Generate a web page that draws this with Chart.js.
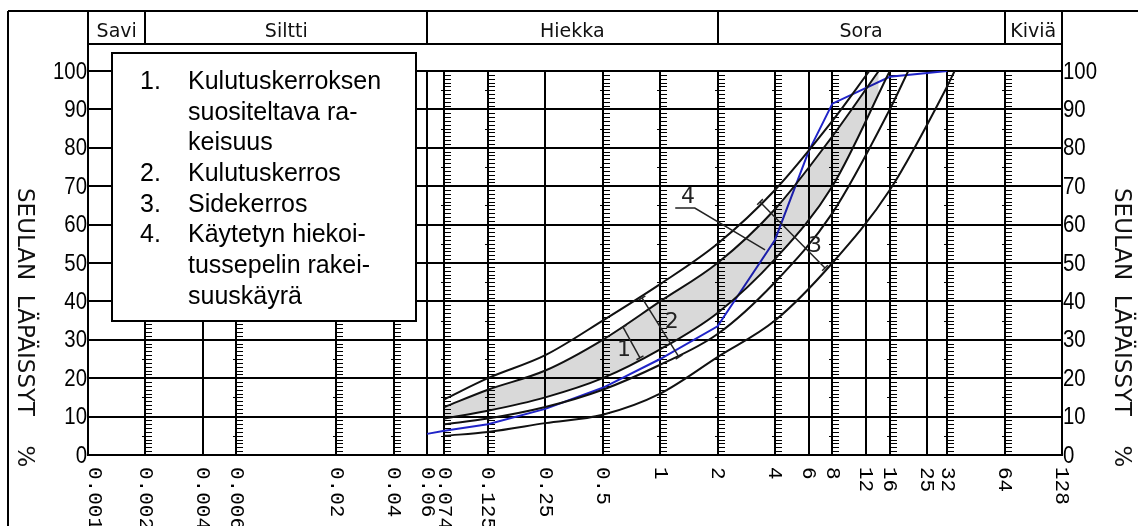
<!DOCTYPE html>
<html><head><meta charset="utf-8">
<script src="https://cdn.jsdelivr.net/npm/chart.js@4.4.1/dist/chart.umd.min.js"></script>
<style>html,body{margin:0;padding:0;background:#fff;}canvas{display:block;}</style>
</head><body>
<canvas id="c" width="1138" height="526"></canvas>
<script>
// ---- data ----
const sieveTicks = [0.001,0.002,0.004,0.006,0.02,0.04,0.06,0.074,0.125,0.25,0.5,1,2,4,6,8,12,16,25,32,64,128];
const sieveTickLabels = ['0.001','0.002','0.004','0.006','0.02','0.04','0.06','0.074','0.125','0.25','0.5','1','2','4','6','8','12','16','25','32','64','128'];
const rulerSieves = [0.002,0.006,0.02,0.04,0.074,0.125,0.5,1,2,4,8,16,32,64];
const plainSieves = [0.004,0.06,0.25,6,12,25];
const passTicks = [0,10,20,30,40,50,60,70,80,90,100];
const passTickLabels = ['0','10','20','30','40','50','60','70','80','90','100'];
const soilClasses = ['Savi','Siltti','Hiekka','Sora','Kiviä'];
const soilClassBounds = [0.001,0.002,0.06,2,64,128];
const yTitle = 'SEULAN  LÄPÄISSYT    %';

// curve A: Kulutuskerros / Sidekerros upper limit
const curveA_x = [0.074,0.125,0.25,0.5,1,2,4,8,12.5];
const curveA_y = [14.5,20,26,35,44.5,55,69,87,100];
// curve B: recommended (shaded) upper limit
const curveB_x = [0.074,0.125,0.25,0.5,1,2,4,8,14];
const curveB_y = [12.5,17,22,30,40,50,64,83,100];
// curve C: recommended (shaded) lower limit
const curveC_x = [0.074,0.125,0.25,0.5,1,2,4,8,16];
const curveC_y = [9.5,11.5,15,20,27.5,37,51,70,100];
// curve D: Kulutuskerros lower limit
const curveD_x = [0.074,0.125,0.25,0.5,1,2,4,8,16,20];
const curveD_y = [8,9.5,12.5,17,23.5,31.5,45,63,90,100];
// curve E: Sidekerros lower limit
const curveE_x = [0.074,0.125,0.25,0.5,1,2,4,8,16,32,35];
const curveE_y = [5,6,8.3,10.5,16,25.5,35,50,69,96,100];
// used gritting aggregate grading curve (blue)
const usedCurve_x = [0.06,0.074,0.125,0.25,0.5,1,2,4,6,8,16,32];
const usedCurve_y = [5.5,6.3,8,12,17.5,25,33.5,56,79,91.5,98.5,100];

const legendNumbers = ['1.','','','2.','3.','4.','',''];
const legendTexts = ['Kulutuskerroksen','suositeltava ra-','keisuus','Kulutuskerros','Sidekerros','Käytetyn hiekoi-','tussepelin rakei-','suuskäyrä'];

// dimension marks on the chart (data coordinates: diameter, %)
const marks = [
  {label:'1', from:[0.639,33.3], to:[0.784,25.3], at:[0.646,27.3]},
  {label:'2', from:[0.803,40.9], to:[1.256,25.5], at:[1.15,34.6]},
  {label:'3', from:[3.34,65.9], to:[7.32,48.7], at:[6.49,54.4]}
];
const leader4 = {label:'4', at:[1.40,67.2], path:[[1.20,64.3],[1.52,64.3],[3.55,53.4]]};

// ---- chart ----
const pts = (xs, ys) => xs.map((x,i)=>({x, y: ys[i]}));
const black = '#111';
const blk = (data, extra) => Object.assign({data, borderColor: black, borderWidth: 2, pointRadius: 0, fill: false, cubicInterpolationMode: 'monotone'}, extra||{});

const numFont = "24px 'Liberation Sans', Arial, sans-serif";

const deco = {
  id: 'deco',
  beforeDatasetsDraw(chart) {
    const {ctx, chartArea: ca, scales: {x, y}} = chart;
    ctx.save();
    ctx.strokeStyle = '#000';
    ctx.lineWidth = 2;
    plainSieves.forEach(v => {
      const px = Math.round(x.getPixelForValue(v));
      ctx.beginPath(); ctx.moveTo(px, ca.top); ctx.lineTo(px, ca.bottom); ctx.stroke();
    });
    rulerSieves.forEach(v => {
      const px = Math.round(x.getPixelForValue(v));
      ctx.lineWidth = 2;
      ctx.beginPath(); ctx.moveTo(px, ca.top); ctx.lineTo(px, ca.bottom); ctx.stroke();
      ctx.lineWidth = 1;
      ctx.beginPath();
      for (let p = 1; p < 100; p++) {
        const py = Math.round(y.getPixelForValue(p)) + 0.5;
        ctx.moveTo(px, py); ctx.lineTo(px + 7, py);
        if (p % 10 === 5) { ctx.moveTo(px - 3, py); ctx.lineTo(px, py); }
      }
      ctx.stroke();
    });
    ctx.restore();
  },
  afterDraw(chart) {
    const {ctx, chartArea: ca, scales: {x, y}} = chart;
    const P = (d) => [x.getPixelForValue(d[0]), y.getPixelForValue(d[1])];
    ctx.save();
    ctx.strokeStyle = '#000';
    ctx.fillStyle = '#000';
    ctx.lineWidth = 2;
    const top = 11, hb = 44;
    const seg = (x1,y1,x2,y2) => { ctx.beginPath(); ctx.moveTo(x1,y1); ctx.lineTo(x2,y2); ctx.stroke(); };
    // frame
    seg(8, top, 1138, top);
    seg(8, top, 8, 526);
    // axis lines extending into header
    seg(ca.left, top, ca.left, ca.bottom);
    seg(ca.right, top, ca.right, ca.bottom);
    seg(ca.left, hb, ca.right, hb);
    // header dividers and texts
    ctx.font = "19px 'DejaVu Sans', sans-serif";
    ctx.textAlign = 'center'; ctx.textBaseline = 'alphabetic';
    ctx.fillStyle = '#111';
    for (let i = 0; i < soilClasses.length; i++) {
      const a = x.getPixelForValue(soilClassBounds[i]);
      const b = x.getPixelForValue(soilClassBounds[i+1]);
      if (i > 0) seg(Math.round(a), top, Math.round(a), hb);
      ctx.fillText(soilClasses[i], (a + b) / 2, 37);
    }
    // y tick labels, both sides (condensed)
    ctx.font = numFont;
    ctx.textBaseline = 'middle';
    ctx.fillStyle = '#000';
    passTicks.forEach((v, i) => {
      const py = y.getPixelForValue(v) + 1;
      ctx.save(); ctx.translate(ca.left - 1, py); ctx.scale(0.85, 1);
      ctx.textAlign = 'right'; ctx.fillText(passTickLabels[i], 0, 0); ctx.restore();
      ctx.save(); ctx.translate(ca.right + 1, py); ctx.scale(0.85, 1);
      ctx.textAlign = 'left'; ctx.fillText(passTickLabels[i], 0, 0); ctx.restore();
    });
    // x tick labels (rotated, reading downward)
    ctx.font = "21px 'Liberation Mono', 'DejaVu Sans Mono', monospace";
    ctx.textAlign = 'left'; ctx.textBaseline = 'middle';
    sieveTicks.forEach((v, i) => {
      let px = x.getPixelForValue(v);
      if (i === 0) px += 7;
      ctx.save(); ctx.translate(px, ca.bottom + 12); ctx.rotate(Math.PI / 2);
      ctx.fillText(sieveTickLabels[i], 0, 0); ctx.restore();
    });
    // y titles
    ctx.font = "23px 'DejaVu Sans', sans-serif";
    ctx.fillStyle = '#111';
    [24, 1121].forEach(cx => {
      ctx.save(); ctx.translate(cx, 188); ctx.rotate(Math.PI / 2);
      ctx.fillText(yTitle, 0, 0); ctx.restore();
    });
    // dimension marks
    ctx.strokeStyle = '#222'; ctx.fillStyle = '#222'; ctx.lineWidth = 1.5;
    ctx.font = "22px 'DejaVu Sans', sans-serif";
    ctx.textAlign = 'center'; ctx.textBaseline = 'middle';
    marks.forEach(m => {
      const [x1,y1] = P(m.from), [x2,y2] = P(m.to);
      seg(x1,y1,x2,y2);
      const dx = x2-x1, dy = y2-y1, L = Math.hypot(dx,dy), nx = -dy/L*4, ny = dx/L*4;
      seg(x1-nx,y1-ny,x1+nx,y1+ny); seg(x2-nx,y2-ny,x2+nx,y2+ny);
      const [tx,ty] = P(m.at);
      ctx.fillText(m.label, tx, ty);
    });
    {
      ctx.beginPath();
      leader4.path.forEach((d, i) => { const [px,py] = P(d); if (i) ctx.lineTo(px,py); else ctx.moveTo(px,py); });
      ctx.stroke();
      const [tx,ty] = P(leader4.at);
      ctx.fillText(leader4.label, tx, ty);
    }
    // legend box
    ctx.fillStyle = '#fff';
    ctx.fillRect(112, 53, 304, 268);
    ctx.strokeStyle = '#000'; ctx.lineWidth = 2;
    ctx.strokeRect(112, 53, 304, 268);
    ctx.fillStyle = '#000';
    ctx.font = "25px 'Liberation Sans', Arial, sans-serif";
    ctx.textAlign = 'left'; ctx.textBaseline = 'middle';
    legendTexts.forEach((t, i) => {
      const ly = 82 + i * 30.7;
      if (legendNumbers[i]) ctx.fillText(legendNumbers[i], 140, ly);
      ctx.fillText(t, 188, ly);
    });
    ctx.restore();
  }
};

new Chart(document.getElementById('c'), {
  type: 'line',
  data: {
    datasets: [
      blk(pts(curveA_x, curveA_y)),
      blk(pts(curveB_x, curveB_y), {fill: {target: '+1'}, backgroundColor: 'rgba(0,0,0,0.15)'}),
      blk(pts(curveC_x, curveC_y)),
      blk(pts(curveD_x, curveD_y)),
      blk(pts(curveE_x, curveE_y)),
      {data: pts(usedCurve_x, usedCurve_y), borderColor: '#2024c8', borderWidth: 2, pointRadius: 0, fill: false, tension: 0}
    ]
  },
  options: {
    responsive: false,
    animation: false,
    layout: {padding: {left: 88, right: 76, top: 71, bottom: 71}},
    plugins: {legend: {display: false}, tooltip: {enabled: false}},
    scales: {
      x: {
        type: 'logarithmic', min: 0.001, max: 128,
        ticks: {display: false}, grid: {display: false},
        border: {display: true, color: '#000', width: 2},
        afterFit(s) { s.height = 0; }
      },
      y: {
        type: 'linear', position: 'left', min: 0, max: 100,
        ticks: {display: false, stepSize: 10},
        grid: {color: '#000', lineWidth: 2, drawTicks: false},
        border: {display: true, color: '#000', width: 2},
        afterFit(s) { s.width = 0; }
      },
      y2: {
        type: 'linear', position: 'right', min: 0, max: 100,
        ticks: {display: false, stepSize: 10},
        grid: {display: false, drawTicks: false},
        border: {display: true, color: '#000', width: 2},
        afterFit(s) { s.width = 0; }
      }
    }
  },
  plugins: [deco]
});
</script>
</body></html>
